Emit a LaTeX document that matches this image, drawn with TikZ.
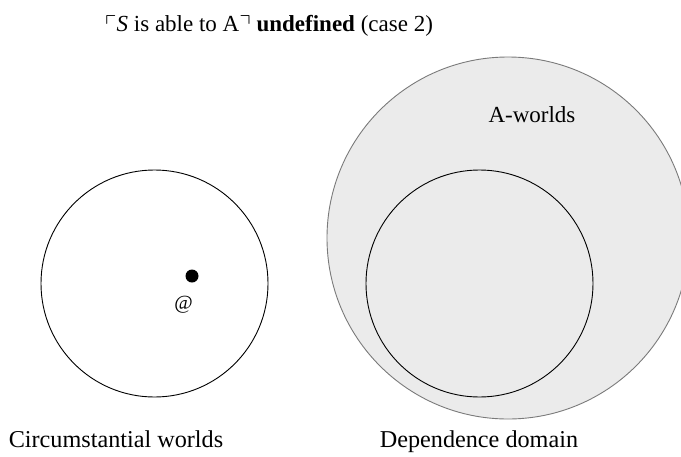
\documentclass[tikz,border=0pt]{standalone}
\usepackage{amssymb}
\usepackage{fontspec}
\setmainfont{Liberation Serif}
\definecolor{domainfill}{HTML}{EBEBEB}
\definecolor{domainline}{HTML}{7A7A7A}
\begin{document}
\begin{tikzpicture}[x=1pt,y=-1pt,
  every node/.style={inner sep=0pt, font=\fontsize{23}{27}\selectfont},
  caption/.style={anchor=base, font=\fontsize{24.2}{28}\selectfont},
  worlds/.style={circle, draw=black, line width=0.9pt, minimum size=227pt},
  aworldset/.style={circle, fill=domainfill, draw=domainline, line width=0.9pt, minimum size=362pt}]
\useasboundingbox (0,0) rectangle (681,456);

% A-worlds, running off the right edge
\begin{scope}
  \clip (0,0) rectangle (681,456);
  \node[aworldset] (aworlds) at (508,238) {};
\end{scope}

% circumstantial worlds and dependence domain
\node[worlds] (circ) at (154.5,283.5) {};
\node[worlds] (dep) at (479.5,283.5) {};

% the actual world
\node[circle, fill=black, minimum size=13pt] (actual) at (192,276) {};
\node[font=\fontsize{20}{24}\selectfont] (atlabel) at (183.5,305) {@};

% labels
\node[anchor=base west] (title) at (105,31)
  {$\ulcorner$\textit{S} is able to A$\urcorner$ \textbf{undefined} (case 2)};
\node[caption] (circlabel) at (116,447) {Circumstantial worlds};
\node[caption] (deplabel) at (479,447) {Dependence domain};
\node[anchor=base] (alabel) at (532,122) {A-worlds};
\end{tikzpicture}
\end{document}
